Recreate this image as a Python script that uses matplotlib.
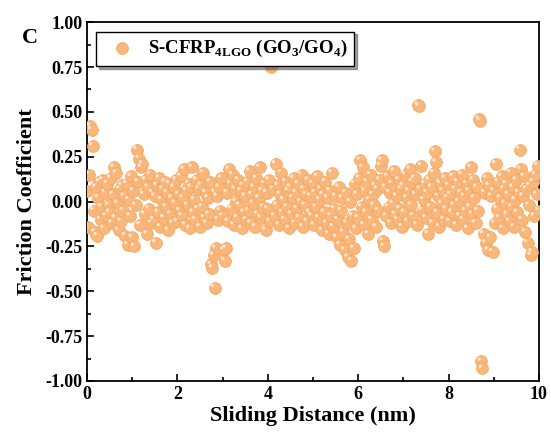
import numpy as np
import matplotlib
matplotlib.use("Agg")
import matplotlib.pyplot as plt
from matplotlib.ticker import MultipleLocator
from matplotlib.transforms import ScaledTranslation

plt.rcParams['font.family'] = ['Liberation Serif', 'DejaVu Serif']
plt.rcParams['font.weight'] = 'bold'
plt.rcParams['mathtext.fontset'] = 'custom'
plt.rcParams['mathtext.rm'] = 'Liberation Serif:bold'
plt.rcParams['mathtext.bf'] = 'Liberation Serif:bold'

# friction coefficient, evenly sampled over the sliding distance 0-10 nm
friction = [
    0.06, -0.14, 0.15, 0.42, 0.40, 0.31, -0.05, -0.17, 0.08, -0.19, 0.02, 0.11, -0.10, -0.03, 0.12, -0.15, 0.05, -0.08, 0.10, -0.02,
    -0.06, 0.13, -0.12, 0.04, 0.19, -0.09, 0.16, -0.01, -0.16, 0.07, -0.11, 0.09, -0.05, 0.03, -0.19, 0.10, -0.24, 0.01, -0.08, 0.14,
    -0.20, 0.06, -0.25, -0.02, 0.29, 0.11, 0.24, -0.13, 0.19, 0.21, 0.04, -0.07, 0.12, -0.18, 0.08, -0.04, 0.15, -0.12, 0.05, -0.10,
    0.03, -0.23, 0.09, -0.06, 0.13, -0.14, 0.01, 0.07, -0.09, 0.11, -0.03, 0.05, -0.16, 0.10, -0.07, 0.02, -0.12, 0.08, -0.01, 0.12,
    -0.11, 0.04, -0.05, 0.14, -0.08, 0.02, 0.18, -0.13, 0.06, -0.02, 0.10, -0.15, 0.08, 0.19, -0.06, 0.01, -0.10, 0.12, -0.04, 0.07,
    -0.14, 0.09, -0.03, 0.16, -0.09, 0.05, -0.12, 0.02, -0.07, 0.11, -0.35, -0.37, -0.30, -0.48, -0.26, 0.03, -0.10, 0.08, -0.05, 0.13,
    -0.08, -0.27, -0.33, -0.26, 0.05, -0.11, 0.18, 0.10, -0.04, 0.15, -0.13, 0.07, 0.00, -0.09, 0.12, -0.02, 0.06, -0.15, 0.09, -0.06,
    0.03, -0.10, 0.11, -0.05, 0.17, -0.12, 0.04, -0.01, 0.08, -0.14, 0.13, -0.07, 0.02, 0.19, -0.09, 0.06, -0.03, 0.10, -0.16, 0.05,
    -0.04, 0.12, -0.11, 0.75, 0.76, 0.07, -0.08, 0.21, -0.02, 0.09, -0.13, 0.04, 0.16, -0.06, 0.01, -0.10, 0.11, -0.03, 0.06, -0.15,
    0.08, -0.07, 0.02, 0.13, -0.12, 0.05, -0.04, 0.10, -0.09, 0.00, 0.15, -0.14, 0.07, -0.02, 0.04, -0.11, 0.12, -0.06, 0.03, -0.08,
    0.10, -0.13, 0.05, -0.03, 0.14, -0.09, 0.01, 0.07, -0.16, 0.04, -0.06, 0.11, -0.12, 0.02, -0.18, 0.06, -0.08, 0.16, -0.14, -0.04,
    0.03, -0.20, -0.10, 0.08, -0.24, -0.05, 0.02, -0.17, -0.27, 0.05, -0.12, -0.31, -0.21, 0.00, -0.33, -0.08, -0.26, 0.10, -0.15, 0.04,
    -0.09, 0.13, 0.23, -0.03, 0.19, -0.13, 0.06, -0.06, 0.11, -0.18, 0.01, 0.15, -0.10, 0.04, -0.02, 0.09, -0.14, 0.07, -0.05, 0.12,
    0.20, 0.23, -0.22, -0.25, 0.08, -0.08, 0.14, -0.03, 0.05, -0.12, 0.10, -0.01, 0.17, -0.07, 0.03, -0.10, 0.12, -0.04, 0.07, -0.14,
    0.09, -0.06, 0.15, 0.02, -0.11, 0.06, 0.18, -0.02, 0.11, -0.08, 0.13, 0.04, -0.13, 0.54, 0.53, 0.07, 0.20, -0.05, 0.01, 0.10,
    -0.09, 0.05, -0.18, 0.12, -0.03, 0.08, -0.12, 0.16, 0.28, 0.22, -0.06, 0.03, -0.14, 0.10, -0.01, 0.06, -0.10, 0.13, -0.04, 0.02,
    0.09, -0.11, 0.04, -0.06, 0.14, -0.02, 0.07, -0.13, 0.11, 0.00, -0.08, 0.05, 0.15, -0.10, 0.03, -0.05, 0.10, -0.15, 0.06, -0.03,
    0.19, -0.07, 0.12, 0.02, -0.12, 0.08, -0.05, 0.46, 0.45, -0.89, -0.93, -0.18, 0.05, -0.23, 0.13, -0.27, 0.09, -0.20, 0.03, -0.28,
    0.06, -0.12, 0.21, -0.04, 0.11, -0.09, 0.02, 0.14, -0.15, 0.07, -0.01, 0.10, -0.07, 0.04, -0.11, 0.16, -0.03, 0.08, -0.14, 0.01,
    0.12, -0.06, 0.05, 0.29, 0.18, -0.10, 0.03, 0.14, -0.17, 0.07, -0.23, -0.02, 0.09, -0.30, -0.28, 0.11, -0.08, 0.15, 0.04, 0.20,
    -0.05,
]
distance = np.linspace(0, 10, len(friction))

series_label = r'S-CFRP$_{\mathbf{4LGO}}$ (GO$_{\mathbf{3}}$/GO$_{\mathbf{4}}$)'

fig = plt.figure(figsize=(5.51, 4.43), dpi=100)
ax = fig.add_axes([0.158, 0.140, 0.820, 0.810])

ax.scatter(distance, friction, s=72, color='#F9B77B', edgecolors='#F4A965',
           linewidths=0.6, label=series_label, zorder=3)
# small glint on each ball
glint = ax.transData + ScaledTranslation(-1.6 / 72, 1.6 / 72, fig.dpi_scale_trans)
ax.scatter(distance, friction, s=6, color='#FDE3C8', edgecolors='none',
           transform=glint, zorder=4)

ax.set_xlim(0, 10)
ax.set_ylim(-1.0, 1.0)
ax.xaxis.set_major_locator(MultipleLocator(2))
ax.xaxis.set_minor_locator(MultipleLocator(1))
ax.yaxis.set_major_locator(MultipleLocator(0.25))
ax.yaxis.set_minor_locator(MultipleLocator(0.125))
ax.yaxis.set_major_formatter(matplotlib.ticker.FormatStrFormatter('%.2f'))
ax.tick_params(which='both', direction='in', top=False, right=False, width=1.2)
ax.tick_params(which='major', length=5, labelsize=13)
ax.tick_params(which='minor', length=3)
for s in ax.spines.values():
    s.set_linewidth(1.3)

ax.set_xlabel('Sliding Distance (nm)', fontsize=16, fontweight='bold', labelpad=2)
ax.set_ylabel('Friction Coefficient', fontsize=16, fontweight='bold', labelpad=6)
fig.text(0.055, 0.915, 'C', fontsize=16, fontweight='bold', ha='center', va='center')

leg = ax.legend(loc='upper left', bbox_to_anchor=(0.0, 1.0), fontsize=13.5,
                shadow=True, fancybox=False, edgecolor='black', framealpha=1,
                handletextpad=0.4, borderpad=0.35, markerscale=1.0)
leg.get_frame().set_linewidth(1.0)

fig.savefig('out.png', dpi=100)
